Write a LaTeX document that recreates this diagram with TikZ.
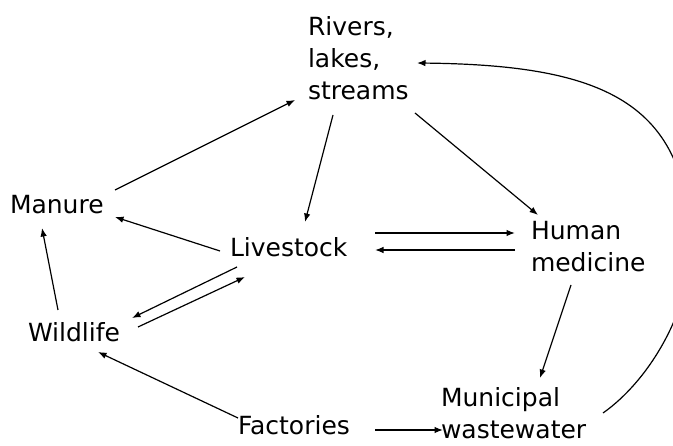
\documentclass[tikz,border=0pt]{standalone}
\usepackage{fontspec}
\setmainfont{DejaVu Sans}
\usetikzlibrary{arrows.meta}
\begin{document}
\begin{tikzpicture}[x=1pt,y=-1pt,
  lbl/.style={inner sep=0pt,outer sep=0pt,align=left,font=\fontsize{25}{32}\selectfont},
  arr/.style={line width=1.2pt,-{Latex[length=8.5pt,width=6.5pt]}}]
\useasboundingbox (0,0) rectangle (673,446);
\fill[white] (0,0) rectangle (673,446);
\clip (0,0) rectangle (673,446);
% nodes
\node[lbl,anchor=north west] (riv) at (308,17) {Rivers,\\lakes,\\streams};
\node[lbl,anchor=base west] (man) at (10,214) {Manure};
\node[lbl,anchor=base west] (liv) at (230,257) {Livestock};
\node[lbl,anchor=north west] (hum) at (531,221) {Human\\medicine};
\node[lbl,anchor=base west] (wil) at (28,342) {Wildlife};
\node[lbl,anchor=base west] (fac) at (238,435) {Factories};
\node[lbl,anchor=north west,text depth=0pt] (mun) at (441,388) {Municipal\\wastewater};
\coordinate (bend) at (690,250);
% connectors
\draw[arr] ([shift={(105,-24)}]man.base west) -- ([shift={(-13,83)}]riv.north west);
\draw[arr] ([shift={(25,98)}]riv.north west) -- ([shift={(75,-35)}]liv.base west);
\draw[arr] ([shift={(107,96)}]riv.north west) -- ([shift={(7,-6)}]hum.north west);
\draw[arr] ([shift={(-10,-6)}]liv.base west) -- ([shift={(105,3)}]man.base west);
\draw[arr] ([shift={(145,-24)}]liv.base west) -- ([shift={(-16,12)}]hum.north west);
\draw[arr] ([shift={(-16,29)}]hum.north west) -- ([shift={(145,-7)}]liv.base west);
\draw[arr] ([shift={(30,-32)}]wil.base west) -- ([shift={(32,14)}]man.base west);
\draw[arr] ([shift={(7,10)}]liv.base west) -- ([shift={(104,-24)}]wil.base west);
\draw[arr] ([shift={(110,-15)}]wil.base west) -- ([shift={(15,20)}]liv.base west);
\draw[arr] ([shift={(40,64)}]hum.north west) -- ([shift={(99,-10)}]mun.north west);
\draw[arr] ([shift={(0,-17)}]fac.base west) -- ([shift={(70,10)}]wil.base west);
\draw[arr] ([shift={(137,-5)}]fac.base west) -- ([shift={(2,42)}]mun.north west);
\draw[arr] ([shift={(162,25)}]mun.north west) .. controls (650,380) and (690,310) .. (bend)
  .. controls (690,100) and (600,65) .. ([shift={(109,46)}]riv.north west);
\end{tikzpicture}
\end{document}
